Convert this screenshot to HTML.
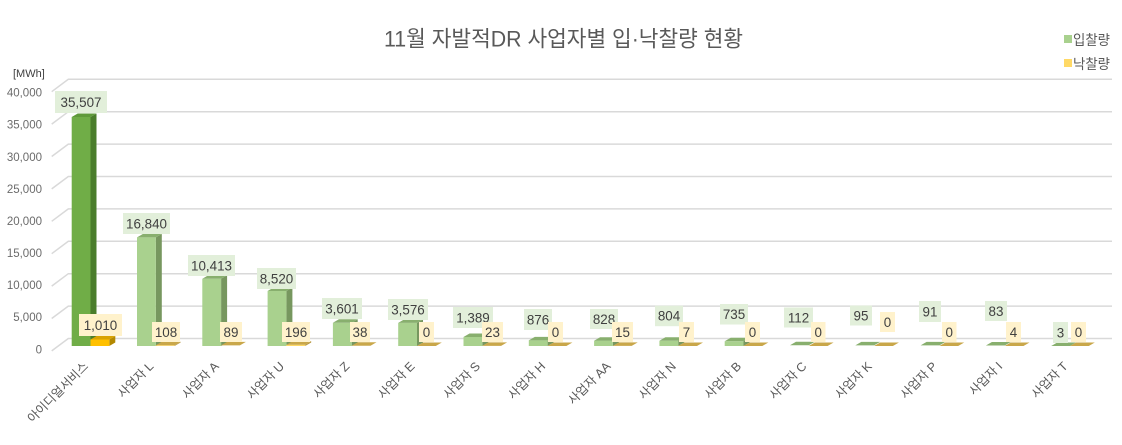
<!DOCTYPE html>
<html>
<head>
<meta charset="utf-8">
<style>
html,body{margin:0;padding:0;background:#fff;}
svg{display:block;}
.gl{stroke:#D9D9D9;stroke-width:1.5;fill:none;}
.yt{font-family:"Liberation Sans",sans-serif;font-size:11.5px;fill:#6b6b6b;}
.dl{font-family:"Liberation Sans",sans-serif;font-size:13.4px;fill:#404040;text-anchor:middle;}
.xl{font-family:"Liberation Sans","Noto Sans CJK KR",sans-serif;font-size:12.4px;fill:#595959;text-anchor:end;}
.gs{fill:#77975F}.gf{fill:#A9D18E}.gt{fill:#88AF6E}
.os{fill:#B59540}.of{fill:#FFD966}.ot{fill:#C9A74A}
.dgs{fill:#4A7D2B}.dgf{fill:#70AD47}.dgt{fill:#5F9A3A}
.dos{fill:#B38800}.dof{fill:#FFC000}.dot{fill:#D9A300}
.lg{fill:#E2EFDA}.lo{fill:#FFF2CC}
</style>
</head>
<body>
<svg width="1122" height="445" viewBox="0 0 1122 445" xmlns="http://www.w3.org/2000/svg">
<rect width="1122" height="445" fill="#fff"/>
<!-- title -->
<text x="563.5" y="46.5" text-anchor="middle" font-family="'Liberation Sans','Noto Sans CJK KR',sans-serif" font-size="22" fill="#595959" textLength="359" lengthAdjust="spacingAndGlyphs">11월 자발적DR 사업자별 입·낙찰량 현황</text>
<!-- legend -->
<rect x="1064" y="35" width="8" height="8" fill="#A9D18E"/>
<text x="1073" y="45" font-family="'Liberation Sans','Noto Sans CJK KR',sans-serif" font-size="14" fill="#595959" textLength="37" lengthAdjust="spacingAndGlyphs">입찰량</text>
<rect x="1064" y="59" width="8" height="8" fill="#FFD966"/>
<text x="1073" y="69" font-family="'Liberation Sans','Noto Sans CJK KR',sans-serif" font-size="14" fill="#595959" textLength="37" lengthAdjust="spacingAndGlyphs">낙찰량</text>
<!-- unit -->
<text x="13" y="77" font-family="'Liberation Sans',sans-serif" font-size="11" fill="#404040">[MWh]</text>
<!-- gridlines -->
<g class="gl">
<polyline points="51.7,91.7 68.3,79.3 1112,79.3"/>
<polyline points="51.7,124.1 68.3,111.7 1112,111.7"/>
<polyline points="51.7,156.5 68.3,144.1 1112,144.1"/>
<polyline points="51.7,188.9 68.3,176.5 1112,176.5"/>
<polyline points="51.7,221.3 68.3,208.9 1112,208.9"/>
<polyline points="51.7,253.7 68.3,241.3 1112,241.3"/>
<polyline points="51.7,286.1 68.3,273.7 1112,273.7"/>
<polyline points="51.7,318.5 68.3,306.1 1112,306.1"/>
<polyline points="51.7,350.9 68.3,338.5 1112,338.5"/>
</g>
<!-- y ticks -->
<g class="yt" text-anchor="end">
<text x="42" y="96.6">40,000</text>
<text x="42" y="128.7">35,000</text>
<text x="42" y="160.8">30,000</text>
<text x="42" y="192.8">25,000</text>
<text x="42" y="224.9">20,000</text>
<text x="42" y="257.0">15,000</text>
<text x="42" y="289.1">10,000</text>
<text x="42" y="321.2">5,000</text>
<text x="42" y="353.3">0</text>
</g>
<!-- bars -->
<g transform="translate(71.7,0)">
<polygon class="dgs" points="18.8,117 24.8,113.5 24.8,342.5 18.8,346"/>
<rect class="dgf" x="0" y="117" width="18.8" height="229"/>
<polygon class="dgt" points="0,117 18.8,117 24.8,113.5 6,113.5"/>
<polygon class="dos" points="37.6,339.5 43.6,336 43.6,342.5 37.6,346"/>
<rect class="dof" x="18.8" y="339.5" width="18.8" height="6.5"/>
<polygon class="dot" points="18.8,339.5 37.6,339.5 43.6,336 24.8,336"/>
</g>
<g transform="translate(137,0)">
<polygon class="gs" points="18.8,237.4 24.8,233.9 24.8,342.5 18.8,346"/>
<rect class="gf" x="0" y="237.4" width="18.8" height="108.6"/>
<polygon class="gt" points="0,237.4 18.8,237.4 24.8,233.9 6,233.9"/>
<polygon class="os" points="37.6,345.3 43.6,341.8 43.6,342.5 37.6,346"/>
<rect class="of" x="18.8" y="345.3" width="18.8" height="0.7"/>
<polygon class="ot" points="18.8,345.3 37.6,345.3 43.6,341.8 24.8,341.8"/>
</g>
<g transform="translate(202.3,0)">
<polygon class="gs" points="18.8,278.8 24.8,275.3 24.8,342.5 18.8,346"/>
<rect class="gf" x="0" y="278.8" width="18.8" height="67.2"/>
<polygon class="gt" points="0,278.8 18.8,278.8 24.8,275.3 6,275.3"/>
<polygon class="ot" points="18.8,345.4 37.6,345.4 43.6,341.9 24.8,341.9"/>
</g>
<g transform="translate(267.6,0)">
<polygon class="gs" points="18.8,291 24.8,287.5 24.8,342.5 18.8,346"/>
<rect class="gf" x="0" y="291" width="18.8" height="55"/>
<polygon class="gt" points="0,291 18.8,291 24.8,287.5 6,287.5"/>
<polygon class="os" points="37.6,344.7 43.6,341.2 43.6,342.5 37.6,346"/>
<rect class="of" x="18.8" y="344.7" width="18.8" height="1.3"/>
<polygon class="ot" points="18.8,344.7 37.6,344.7 43.6,341.2 24.8,341.2"/>
</g>
<g transform="translate(332.9,0)">
<polygon class="gs" points="18.8,322.8 24.8,319.3 24.8,342.5 18.8,346"/>
<rect class="gf" x="0" y="322.8" width="18.8" height="23.2"/>
<polygon class="gt" points="0,322.8 18.8,322.8 24.8,319.3 6,319.3"/>
<polygon class="ot" points="18.8,345.8 37.6,345.8 43.6,342.3 24.8,342.3"/>
</g>
<g transform="translate(398.2,0)">
<polygon class="gs" points="18.8,322.9 24.8,319.4 24.8,342.5 18.8,346"/>
<rect class="gf" x="0" y="322.9" width="18.8" height="23.1"/>
<polygon class="gt" points="0,322.9 18.8,322.9 24.8,319.4 6,319.4"/>
<polygon class="ot" points="18.8,346 37.6,346 43.6,342.5 24.8,342.5"/>
</g>
<g transform="translate(463.5,0)">
<polygon class="gs" points="18.8,337 24.8,333.5 24.8,342.5 18.8,346"/>
<rect class="gf" x="0" y="337" width="18.8" height="9"/>
<polygon class="gt" points="0,337 18.8,337 24.8,333.5 6,333.5"/>
<polygon class="ot" points="18.8,345.85 37.6,345.85 43.6,342.35 24.8,342.35"/>
</g>
<g transform="translate(528.8,0)">
<polygon class="gs" points="18.8,340.35 24.8,336.85 24.8,342.5 18.8,346"/>
<rect class="gf" x="0" y="340.35" width="18.8" height="5.65"/>
<polygon class="gt" points="0,340.35 18.8,340.35 24.8,336.85 6,336.85"/>
<polygon class="ot" points="18.8,346 37.6,346 43.6,342.5 24.8,342.5"/>
</g>
<g transform="translate(594.1,0)">
<polygon class="gs" points="18.8,340.7 24.8,337.2 24.8,342.5 18.8,346"/>
<rect class="gf" x="0" y="340.7" width="18.8" height="5.3"/>
<polygon class="gt" points="0,340.7 18.8,340.7 24.8,337.2 6,337.2"/>
<polygon class="ot" points="18.8,345.9 37.6,345.9 43.6,342.4 24.8,342.4"/>
</g>
<g transform="translate(659.4,0)">
<polygon class="gs" points="18.8,340.8 24.8,337.3 24.8,342.5 18.8,346"/>
<rect class="gf" x="0" y="340.8" width="18.8" height="5.2"/>
<polygon class="gt" points="0,340.8 18.8,340.8 24.8,337.3 6,337.3"/>
<polygon class="ot" points="18.8,346 37.6,346 43.6,342.5 24.8,342.5"/>
</g>
<g transform="translate(724.7,0)">
<polygon class="gs" points="18.8,341.3 24.8,337.8 24.8,342.5 18.8,346"/>
<rect class="gf" x="0" y="341.3" width="18.8" height="4.7"/>
<polygon class="gt" points="0,341.3 18.8,341.3 24.8,337.8 6,337.8"/>
<polygon class="ot" points="18.8,346 37.6,346 43.6,342.5 24.8,342.5"/>
</g>
<g transform="translate(790,0)">
<polygon class="gt" points="0,345.3 18.8,345.3 24.8,341.8 6,341.8"/>
<polygon class="ot" points="18.8,346 37.6,346 43.6,342.5 24.8,342.5"/>
</g>
<g transform="translate(855.3,0)">
<polygon class="gt" points="0,345.4 18.8,345.4 24.8,341.9 6,341.9"/>
<polygon class="ot" points="18.8,346 37.6,346 43.6,342.5 24.8,342.5"/>
</g>
<g transform="translate(920.6,0)">
<polygon class="gt" points="0,345.4 18.8,345.4 24.8,341.9 6,341.9"/>
<polygon class="ot" points="18.8,346 37.6,346 43.6,342.5 24.8,342.5"/>
</g>
<g transform="translate(985.9,0)">
<polygon class="gt" points="0,345.5 18.8,345.5 24.8,342 6,342"/>
<polygon class="ot" points="18.8,346 37.6,346 43.6,342.5 24.8,342.5"/>
</g>
<g transform="translate(1051.2,0)">
<polygon class="gt" points="0,346 18.8,346 24.8,342.5 6,342.5"/>
<polygon class="ot" points="18.8,346 37.6,346 43.6,342.5 24.8,342.5"/>
</g>
<!-- green data labels -->
<g>
<rect class="lg" x="55" y="91" width="52" height="22"/>
<rect class="lg" x="123" y="213" width="47" height="21"/>
<rect class="lg" x="188" y="255" width="47" height="21"/>
<rect class="lg" x="257" y="268" width="39" height="21"/>
<rect class="lg" x="322" y="298" width="40" height="21"/>
<rect class="lg" x="388" y="299" width="40" height="21"/>
<rect class="lg" x="453" y="307" width="40" height="21"/>
<rect class="lg" x="524" y="309" width="28" height="21"/>
<rect class="lg" x="590" y="309" width="28" height="20"/>
<rect class="lg" x="655" y="305.7" width="28" height="20.5"/>
<rect class="lg" x="720" y="304" width="28" height="20.5"/>
<rect class="lg" x="784" y="307.5" width="29" height="20"/>
<rect class="lg" x="850" y="305.5" width="22" height="20"/>
<rect class="lg" x="919" y="301" width="22" height="21"/>
<rect class="lg" x="985" y="301" width="22" height="20"/>
<rect class="lg" x="1053" y="322" width="15" height="21"/>
</g>
<g class="dl">
<text x="81" y="106.8">35,507</text>
<text x="146.5" y="228.3">16,840</text>
<text x="211.5" y="270.3">10,413</text>
<text x="276.5" y="283.3">8,520</text>
<text x="342" y="313.3">3,601</text>
<text x="408" y="314.3">3,576</text>
<text x="473" y="322.3">1,389</text>
<text x="538" y="324.3">876</text>
<text x="604" y="323.8">828</text>
<text x="669" y="320.7">804</text>
<text x="734" y="319">735</text>
<text x="798.5" y="322.3">112</text>
<text x="861" y="320.3">95</text>
<text x="930" y="316.3">91</text>
<text x="996" y="315.8">83</text>
<text x="1060.5" y="337.3">3</text>
</g>
<!-- orange data labels -->
<g>
<rect class="lo" x="79" y="314" width="43" height="22"/>
<rect class="lo" x="152" y="322" width="28" height="20"/>
<rect class="lo" x="220" y="322" width="22" height="20"/>
<rect class="lo" x="282" y="322" width="28" height="20"/>
<rect class="lo" x="350" y="322" width="20" height="20"/>
<rect class="lo" x="419" y="322" width="15" height="20"/>
<rect class="lo" x="482" y="322" width="21" height="20"/>
<rect class="lo" x="548" y="322" width="15" height="20"/>
<rect class="lo" x="612" y="322" width="21" height="20"/>
<rect class="lo" x="679" y="322" width="15" height="20"/>
<rect class="lo" x="745" y="322" width="15" height="20"/>
<rect class="lo" x="811" y="322" width="14.5" height="20"/>
<rect class="lo" x="880" y="312" width="15" height="20"/>
<rect class="lo" x="942" y="322" width="14.5" height="20"/>
<rect class="lo" x="1006" y="322" width="15" height="20"/>
<rect class="lo" x="1071" y="322" width="15" height="20"/>
</g>
<g class="dl">
<text x="100.5" y="329.8">1,010</text>
<text x="166" y="336.8">108</text>
<text x="231" y="336.8">89</text>
<text x="296" y="336.8">196</text>
<text x="360" y="336.8">38</text>
<text x="426.5" y="336.8">0</text>
<text x="492.5" y="336.8">23</text>
<text x="555.5" y="336.8">0</text>
<text x="622.5" y="336.8">15</text>
<text x="686.5" y="336.8">7</text>
<text x="752.5" y="336.8">0</text>
<text x="818.2" y="336.8">0</text>
<text x="887.5" y="326.8">0</text>
<text x="949.2" y="336.8">0</text>
<text x="1013.5" y="336.8">4</text>
<text x="1078.5" y="336.8">0</text>
</g>
<!-- x labels -->
<g class="xl">
<text transform="translate(89,367) rotate(-45)">아이디얼서비스</text>
<text transform="translate(154.3,367) rotate(-45)">사업자 L</text>
<text transform="translate(219.6,367) rotate(-45)">사업자 A</text>
<text transform="translate(284.9,367) rotate(-45)">사업자 U</text>
<text transform="translate(350.2,367) rotate(-45)">사업자 Z</text>
<text transform="translate(415.5,367) rotate(-45)">사업자 E</text>
<text transform="translate(480.8,367) rotate(-45)">사업자 S</text>
<text transform="translate(546.1,367) rotate(-45)">사업자 H</text>
<text transform="translate(611.4,367) rotate(-45)">사업자 AA</text>
<text transform="translate(676.7,367) rotate(-45)">사업자 N</text>
<text transform="translate(742,367) rotate(-45)">사업자 B</text>
<text transform="translate(807.3,367) rotate(-45)">사업자 C</text>
<text transform="translate(872.6,367) rotate(-45)">사업자 K</text>
<text transform="translate(937.9,367) rotate(-45)">사업자 P</text>
<text transform="translate(1003.2,367) rotate(-45)">사업자 I</text>
<text transform="translate(1068.5,367) rotate(-45)">사업자 T</text>
</g>
</svg>
</body>
</html>
